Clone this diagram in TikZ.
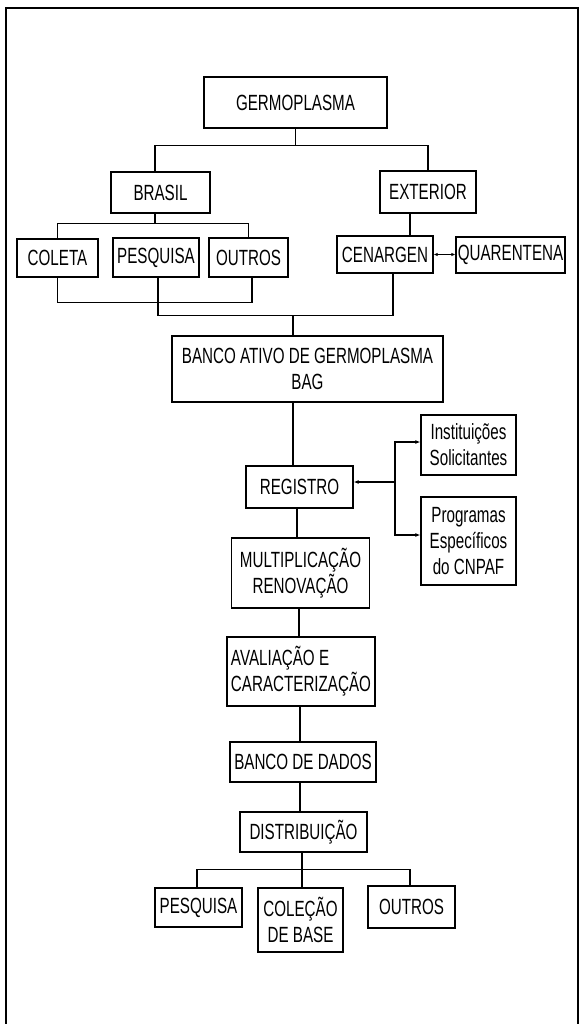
\documentclass[tikz,border=0pt]{standalone}
\usepackage{fontspec}
\setmainfont{Liberation Sans}[FakeStretch=0.69]
\usetikzlibrary{arrows.meta}

\tikzset{
  bloco/.style={draw, line width=1.3pt, inner sep=1.5pt, align=center,
    font=\fontsize{22}{26}\selectfont},
  liga/.style={line width=1.2pt},
  seta/.style={liga, -{Latex[length=5pt,width=4pt]}},
  duasetas/.style={liga, {Latex[length=4pt,width=3.5pt]}-{Latex[length=4pt,width=3.5pt]}},
}

\begin{document}
\begin{tikzpicture}[x=1pt,y=-1pt]
        \useasboundingbox (0,0) rectangle (584,1024);
        \draw[line width=1.2pt] (6,1024) -- (6,8) -- (578,8) -- (578,1024);

        \node[bloco, minimum width=183pt, minimum height=51pt] (germ) at (295.5,102.5) {GERMOPLASMA};
        \node[bloco, minimum width=99pt, minimum height=41pt] (brasil) at (160.5,192.5) {BRASIL};
        \node[bloco, minimum width=96pt, minimum height=42pt] (exterior) at (428,192) {EXTERIOR};

        \node[bloco, minimum width=81pt, minimum height=38pt] (coleta) at (57.5,258) {COLETA};
        \node[bloco, minimum width=86pt, minimum height=39pt] (pesqA) at (156,257.5) {PESQUISA};
        \node[bloco, minimum width=79pt, minimum height=39pt] (outrosA) at (248.5,257.5) {OUTROS};
        \node[bloco, minimum width=96pt, minimum height=37pt] (cenargen) at (385,254.5) {CENARGEN};
        \node[bloco, minimum width=109pt, minimum height=36pt] (quarentena) at (510.5,255) {QUARENTENA};

        \node[bloco, minimum width=271pt, minimum height=66pt] (bag) at (307.5,369) {BANCO ATIVO DE GERMOPLASMA\\BAG};
        \node[bloco, minimum width=107pt, minimum height=42pt] (registro) at (299.5,487) {REGISTRO};
        \node[bloco, minimum width=95pt, minimum height=60pt] (inst) at (468.5,445) {Instituições\\Solicitantes};
        \node[bloco, minimum width=95pt, minimum height=88pt] (prog) at (468.5,541) {Programas\\Específicos\\do CNPAF};
        \node[bloco, minimum width=138pt, minimum height=70pt] (multi) at (300.5,573) {MULTIPLICAÇÃO\\RENOVAÇÃO};
        \node[bloco, align=left, inner sep=0.5pt, minimum width=148pt, minimum height=69pt] (aval) at (301,671.5) {AVALIAÇÃO E\\CARACTERIZAÇÃO};
        \node[bloco, minimum width=146pt, minimum height=40pt] (bdados) at (303,762) {BANCO DE DADOS};
        \node[bloco, minimum width=127pt, minimum height=40pt] (distrib) at (303.5,832) {DISTRIBUIÇÃO};

        \node[bloco, minimum width=87pt, minimum height=39pt] (pesqB) at (198.5,907.5) {PESQUISA};
        \node[bloco, minimum width=85pt, minimum height=64pt] (colecao) at (300.5,920) {COLEÇÃO\\DE BASE};
        \node[bloco, minimum width=87pt, minimum height=42pt] (outrosB) at (411.5,907) {OUTROS};

        \draw[liga] (germ.south) -- ++(0,17) coordinate (g1) -| ([xshift=-5.5pt]brasil.north);
        \draw[liga] (g1) -| (exterior.north);

        \draw[liga] ([xshift=-5.5pt]brasil.south) -- ++(0,10) coordinate (b1) -| (coleta.north);
        \draw[liga] (b1) -| (outrosA.north);
        \draw[liga] ([xshift=-18pt]exterior.south) -- ([xshift=-18pt]exterior.south |- cenargen.north);
        \draw[duasetas] (cenargen.east) -- (quarentena.west |- cenargen.east);

        \draw[liga] (coleta.south) -- ++(0,25) -| ([xshift=3.5pt]outrosA.south);
        \draw[liga] ([xshift=2pt]pesqA.south) -- ++(0,38) -| ([xshift=8pt]cenargen.south);
        \coordinate (j1) at (293,315);
        \draw[liga] (j1) -- (j1 |- bag.north);

        \draw[liga] ([xshift=-14.5pt]bag.south) -- ([xshift=-14.5pt]bag.south |- registro.north);
        \coordinate (r1) at (395,482);
        \draw[seta] (r1) -- (registro.east |- r1);
        \draw[seta] (r1) |- ([yshift=3pt]inst.west);
        \draw[seta] (r1) |- ([yshift=6pt]prog.west);

        \draw[liga] ([xshift=-2.5pt]registro.south) -- ([xshift=-2.5pt]registro.south |- multi.north);
        \draw[liga] ([xshift=-1.5pt]multi.south) -- ([xshift=-1.5pt]multi.south |- aval.north);
        \draw[liga] ([xshift=-1pt]aval.south) -- ([xshift=-1pt]aval.south |- bdados.north);
        \draw[liga] ([xshift=-3pt]bdados.south) -- ([xshift=-3pt]bdados.south |- distrib.north);

        \draw[liga] ([xshift=-1.5pt]distrib.south) -- ++(0,17) coordinate (d1) -| ([xshift=-1.5pt]pesqB.north);
        \draw[liga] (d1) -- (d1 |- colecao.north);
        \draw[liga] (d1) -| ([xshift=-1.5pt]outrosB.north);
\end{tikzpicture}
\end{document}
